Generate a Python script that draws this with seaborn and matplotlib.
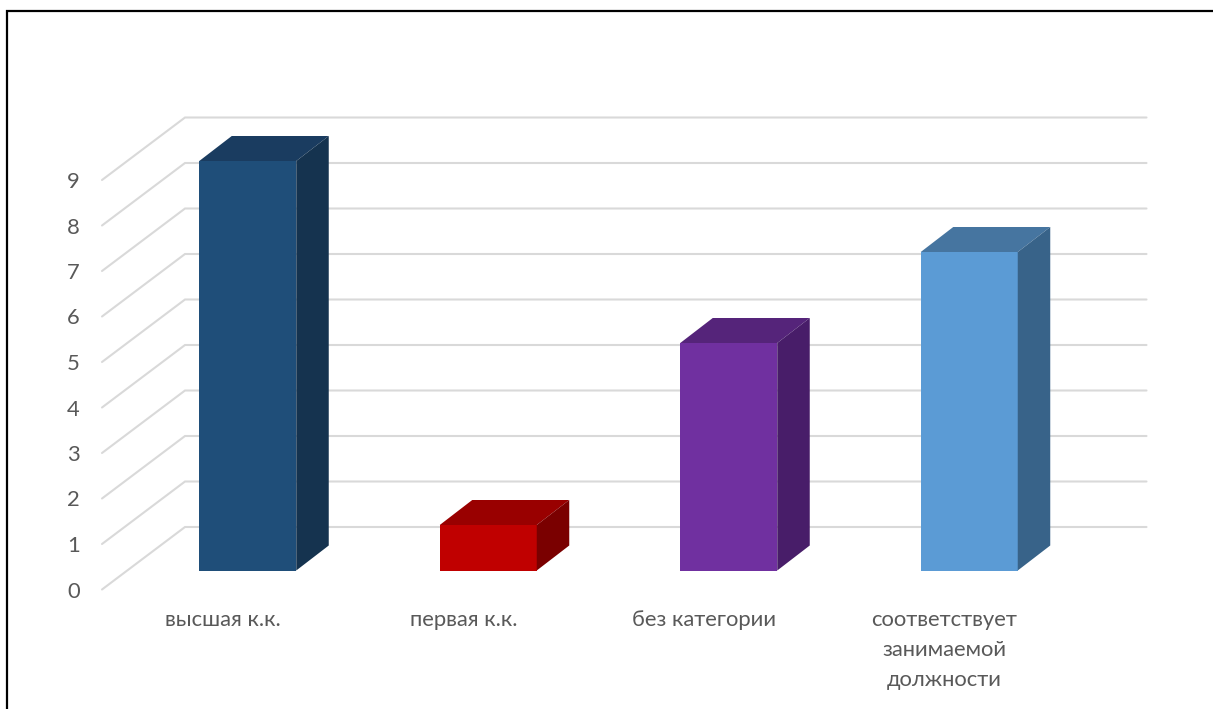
import matplotlib
matplotlib.use("Agg")
import matplotlib.pyplot as plt
from matplotlib.lines import Line2D
from matplotlib.patches import Polygon
import seaborn as sns

categories = ["высшая к.к.", "первая к.к.", "без категории", "соответствует\nзанимаемой\nдолжности"]
values = [9, 1, 5, 7]
front_colors = ["#1F4E79", "#C00000", "#7030A0", "#5B9BD5"]
top_colors = ["#1A3C60", "#990000", "#55247A", "#4675A0"]
side_colors = ["#15334F", "#7A0000", "#481D69", "#386389"]
y_ticks = list(range(10))

W, H = 1213, 709
STEP = 240.5      # px per category
UNIT = 409.5 / 9  # px per value unit

sns.set_theme(style="white")
plt.rcParams["font.family"] = ["Lato", "Noto Sans", "DejaVu Sans"]
fig = plt.figure(figsize=(W / 100, H / 100), dpi=100, facecolor="white")


def rect(l, t, r, b):
    return [l / W, 1 - b / H, (r - l) / W, (b - t) / H]


# front plane: axis labels and the start of the diagonal floor/wall lines
fl, fr, ft, fb = 102, 1063.5, 180, 589.5
front = fig.add_axes(rect(fl, ft, fr, fb))
front.set_xlim((fl - 223) / STEP, (fr - 223) / STEP)
front.set_ylim(0, 9)
front.set_xticks(range(len(categories)), categories)
front.set_yticks(y_ticks)
front.tick_params(axis="x", length=0, pad=14.5, labelsize=15.8, labelcolor="#595959")
front.tick_params(axis="y", length=0, pad=16, labelsize=15.8, labelcolor="#595959")
for s in front.spines.values():
    s.set_visible(False)
for lab in front.get_xticklabels():
    lab.set_linespacing(1.64)
front.patch.set_alpha(0)

# back wall grid
dx, dy = 83 / STEP, 62.5 / UNIT
x0, x1 = front.get_xlim()
for v in y_ticks:
    front.plot([x0, x0 + dx, x1 + dx], [v, v + dy, v + dy], color="#D9D9D9",
               lw=1.5, clip_on=False, solid_joinstyle="miter")

# bars: plotted on a plane set back from the front plane
bl, br, bt, bb = 127, 1090, 161, 570.5
CENTER = 247.75
bars = fig.add_axes(rect(bl, bt, br, bb), zorder=3)
bars.patch.set_alpha(0)
sns.barplot(x=categories, y=values, hue=categories, palette=front_colors, dodge=False,
            width=97 / STEP, legend=False, saturation=1, ax=bars, linewidth=0)
bars.set_xlim((bl - CENTER) / STEP, (br - CENTER) / STEP)
bars.set_ylim(0, 9)
bars.axis("off")

ddx, ddy = 32.5 / STEP, 25 / UNIT
for patch, top_c, side_c in zip(bars.patches, top_colors, side_colors):
    x, w, h = patch.get_x(), patch.get_width(), patch.get_height()
    bars.add_patch(Polygon([(x, h), (x + w, h), (x + w + ddx, h + ddy), (x + ddx, h + ddy)],
                           closed=True, fc=top_c, ec="none", clip_on=False))
    bars.add_patch(Polygon([(x + w, 0), (x + w + ddx, ddy), (x + w + ddx, h + ddy), (x + w, h)],
                           closed=True, fc=side_c, ec="none", clip_on=False))

# frame of the pasted picture
fig.add_artist(Line2D([7 / W, 7 / W, 1], [0, 1 - 11 / H, 1 - 11 / H], color="black", lw=1.6,
                      solid_joinstyle="miter"))

fig.savefig("out.png", dpi=100)
